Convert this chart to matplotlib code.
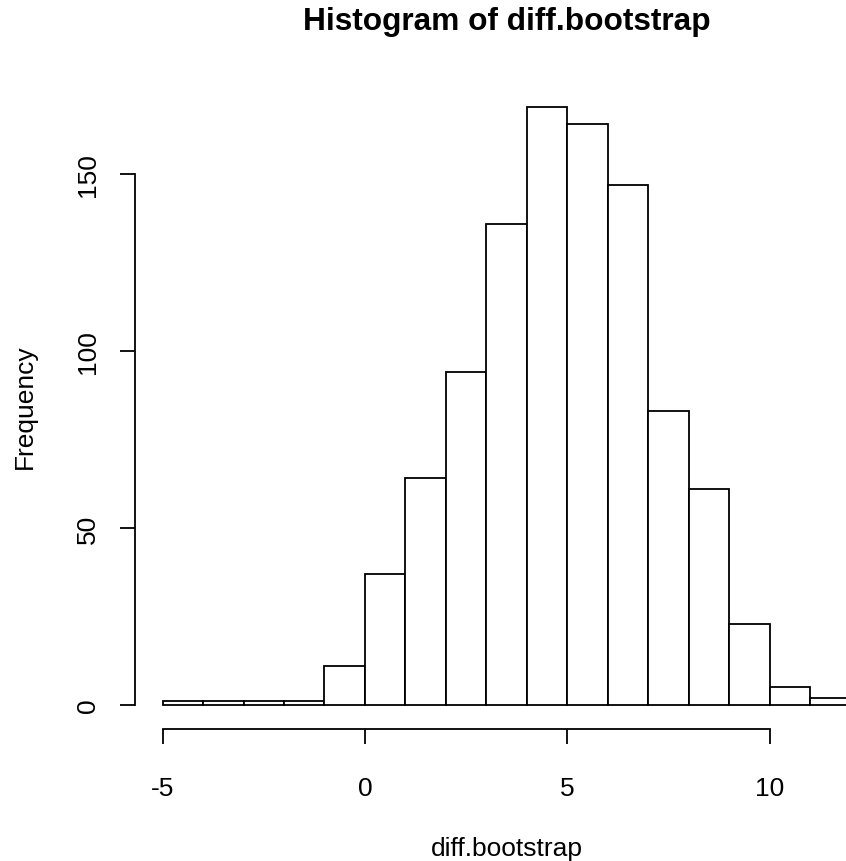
import matplotlib
matplotlib.use("Agg")
import matplotlib.pyplot as plt
import numpy as np

# Data (bin edges and counts)
bin_edges = [-5, -4, -3, -2, -1, 0, 1, 2, 3, 4, 5, 6, 7, 8, 9, 10, 11, 12]
counts = [1, 1, 1, 1, 11, 37, 64, 94, 136, 169, 164, 147, 83, 61, 23, 5, 2]
x_ticks = [-5, 0, 5, 10]
y_ticks = [0, 50, 100, 150]
title = "Histogram of diff.bootstrap"
xlabel = "diff.bootstrap"
ylabel = "Frequency"

plt.rcParams['font.family'] = ['Liberation Sans', 'DejaVu Sans']
plt.rcParams['axes.unicode_minus'] = False

W, H = 846, 862
fig = plt.figure(figsize=(W / 100, H / 100), dpi=100)
fig.patch.set_facecolor('white')

left_px, right_px = 135.0, 878.4
top_px, bottom_px = 83.8, 729.9
ax = fig.add_axes([left_px / W, 1 - bottom_px / H,
                   (right_px - left_px) / W, (bottom_px - top_px) / H])

edges = np.array(bin_edges, dtype=float)
ax.bar(edges[:-1], counts, width=np.diff(edges), align='edge',
       facecolor='white', edgecolor='black', linewidth=1.3)

ax.set_xlim(-5.68, 12.68)
ax.set_ylim(-6.76, 175.76)

for s in ['top', 'right']:
    ax.spines[s].set_visible(False)
ax.spines['left'].set_bounds(0, 150)
ax.spines['bottom'].set_bounds(-5, 10)
for s in ['left', 'bottom']:
    ax.spines[s].set_linewidth(1.3)

fs = 19
ax.set_xticks(x_ticks)
ax.set_xticklabels([str(v) for v in x_ticks], fontsize=fs)
ax.set_yticks(y_ticks)
ax.set_yticklabels([str(v) for v in y_ticks], fontsize=fs, rotation=90,
                   va='center')
ax.tick_params(axis='x', length=10.8, width=1.3, pad=23)
ax.tick_params(axis='y', length=10.8, width=1.3, pad=14.5)

fig.text(507 / W, 1 - 30 / H, title, ha='center', va='baseline',
         fontsize=22.8, fontweight='bold')
fig.text(507 / W, 1 - 856 / H, xlabel, ha='center', va='baseline', fontsize=fs)
fig.text(32 / W, 1 - 407 / H, ylabel, ha='center', va='baseline',
         rotation=90, rotation_mode='anchor', fontsize=fs)

fig.savefig("out.png", dpi=100, facecolor='white')
